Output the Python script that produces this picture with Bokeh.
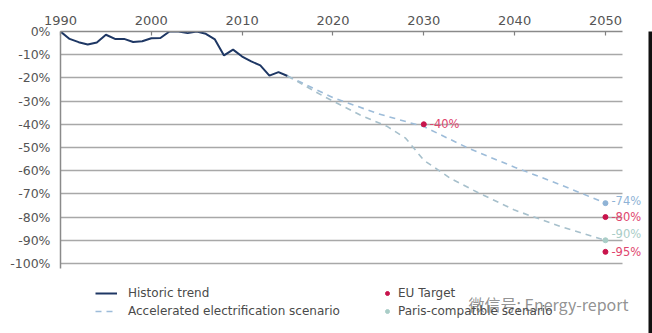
from bokeh.plotting import figure
from bokeh.models import (Legend, LegendItem, FixedTicker, PrintfTickFormatter,
                          Range1d, Label, ColumnDataSource, BoxAnnotation)
from bokeh.embed import file_html
from bokeh.resources import INLINE
from bokeh.core.properties import value

# ---------------- data ----------------
hist_years = list(range(1990, 2016))
hist_values = [0, -3.2, -4.6, -5.6, -4.7, -1.4, -3.2, -3.2, -4.5, -4.2, -2.9, -2.8,
               0, 0, -0.7, 0, -1.0, -3.4, -10.3, -7.8, -10.8, -12.9, -14.6, -19.0,
               -17.5, -19.2]

acc_years = [2015, 2020, 2025, 2030, 2035, 2040, 2045, 2050]
acc_values = [-19.2, -28.5, -35.5, -41.0, -50.5, -58.5, -66.0, -74.0]

paris_years = [2015, 2019, 2023, 2026, 2028, 2030, 2033, 2036, 2040, 2045, 2050]
paris_values = [-19.2, -28.0, -36.0, -41.0, -46.0, -55.5, -63.5, -69.5, -77.0, -84.0, -90.0]

eu_years = [2030, 2050, 2050]
eu_values = [-40, -80, -95]

acc_end_year = [2050]
acc_end_value = [-74]

paris_end_year = [2050]
paris_end_value = [-90]

x_ticks = [1990, 2000, 2010, 2020, 2030, 2040, 2050]
y_ticks = [0, -10, -20, -30, -40, -50, -60, -70, -80, -90, -100]

# ---------------- colours / style ----------------
NAVY = "#1e3764"
DASH = "#9dbcd9"
DASH2 = "#a7c0cc"
EU = "#c8144c"
EU_TXT = "#e0456e"
PARIS = "#a9cdc7"
ACC_DOT = "#8fb3d6"
FONT = "DejaVu Sans"

X_END = 2051.9
Y_END = -102
X_MAX = 2055.18

p = figure(width=652, height=333, output_backend="svg", toolbar_location=None,
           x_axis_location="above",
           x_range=Range1d(1990, X_MAX), y_range=Range1d(-130.2, 0),
           min_border_left=60, min_border_right=0, min_border_top=31,
           min_border_bottom=0)
p.outline_line_color = None
p.background_fill_color = "white"

# axes
p.xaxis.bounds = (1990, X_END)
p.xaxis.ticker = FixedTicker(ticks=x_ticks)
p.xaxis.minor_tick_line_color = None
p.xaxis.major_tick_in = 4
p.xaxis.major_tick_out = 0
p.xaxis.major_tick_line_color = "#808080"
p.xaxis.major_tick_line_width = 1.2
p.xaxis.axis_line_color = "#8a8a8a"
p.xaxis.axis_line_width = 1.5
p.xaxis.major_label_text_font = FONT
p.xaxis.major_label_text_font_size = "13px"
p.xaxis.major_label_text_color = "#555555"
p.xaxis.major_label_standoff = 7

p.yaxis.bounds = (Y_END, 0)
p.yaxis.ticker = FixedTicker(ticks=y_ticks)
p.yaxis.formatter = PrintfTickFormatter(format="%d%%")
p.yaxis.minor_tick_line_color = None
p.yaxis.major_tick_line_color = None
p.yaxis.major_tick_in = 0
p.yaxis.major_tick_out = 0
p.yaxis.axis_line_color = "#8a8a8a"
p.yaxis.axis_line_width = 1.5
p.yaxis.major_label_text_font = FONT
p.yaxis.major_label_text_font_size = "12.5px"
p.yaxis.major_label_text_color = "#555555"
p.yaxis.major_label_standoff = 10

p.xgrid.visible = False
p.ygrid.ticker = FixedTicker(ticks=y_ticks)
p.ygrid.cross_bounds = (1990, X_END)
p.ygrid.grid_line_color = "#a8a8a8"
p.ygrid.grid_line_width = 1.3

# series
r_hist = p.line(hist_years, hist_values, line_color=NAVY, line_width=2)
r_acc = p.line(acc_years, acc_values, line_color=DASH, line_width=1.6, line_dash="6 5")
r_paris = p.line(paris_years, paris_values, line_color=DASH2, line_width=1.6, line_dash="6 5")

r_accdot = p.scatter(acc_end_year, acc_end_value, size=5, color=ACC_DOT)
r_eu = p.scatter(eu_years, eu_values, size=5, color=EU)
r_pdot = p.scatter(paris_end_year, paris_end_value, size=5, color=PARIS)

# value labels
def lab(xs, ys, color, dy=0):
    src = ColumnDataSource(dict(x=xs, y=ys, t=[f"{v}%" for v in ys]))
    p.text("x", "y", text="t", source=src, x_offset=6, y_offset=dy,
           text_font=value(FONT), text_font_size="11.5px", text_color=color,
           text_baseline="middle", text_align="left")

lab(eu_years[:1], eu_values[:1], EU_TXT)
lab(eu_years[1:], eu_values[1:], EU_TXT)
lab(acc_end_year, acc_end_value, ACC_DOT, dy=-2)
lab(paris_end_year, paris_end_value, PARIS, dy=-6)

# legends
leg1 = Legend(items=[LegendItem(label="Historic trend", renderers=[r_hist]),
                     LegendItem(label="Accelerated electrification scenario", renderers=[r_acc])],
              location=(35, 13), orientation="vertical")
leg2 = Legend(items=[LegendItem(label="EU Target", renderers=[r_eu]),
                     LegendItem(label="Paris-compatible scenario", renderers=[r_pdot])],
              location=(322, 13), orientation="vertical")
for lg, gw, st in ((leg1, 22, 11), (leg2, 10, 6)):
    lg.glyph_width = gw
    lg.glyph_height = 18
    lg.label_height = 18
    lg.label_standoff = st
    lg.spacing = 0
    lg.padding = 0
    lg.margin = 0
    lg.border_line_alpha = 0
    lg.background_fill_alpha = 0
    lg.label_text_font = FONT
    lg.label_text_font_size = "12px"
    lg.label_text_color = "#4a4a4a"
    p.add_layout(lg, "center")

# watermark
wm = Label(x=408, y=30, x_units="screen", y_units="screen",
           text="微信号: Energy-report", text_font="Noto Sans CJK SC",
           text_font_size="16px", text_color="#858585", text_alpha=0.9,
           text_baseline="middle")
p.add_layout(wm)

# dark strip at the right edge of the picture
p.add_layout(BoxAnnotation(left=2054.74, right=X_MAX, top=340, top_units="screen",
                           fill_color="#111111", fill_alpha=1, line_alpha=0))

open("out.html", "w").write(file_html(p, INLINE))
